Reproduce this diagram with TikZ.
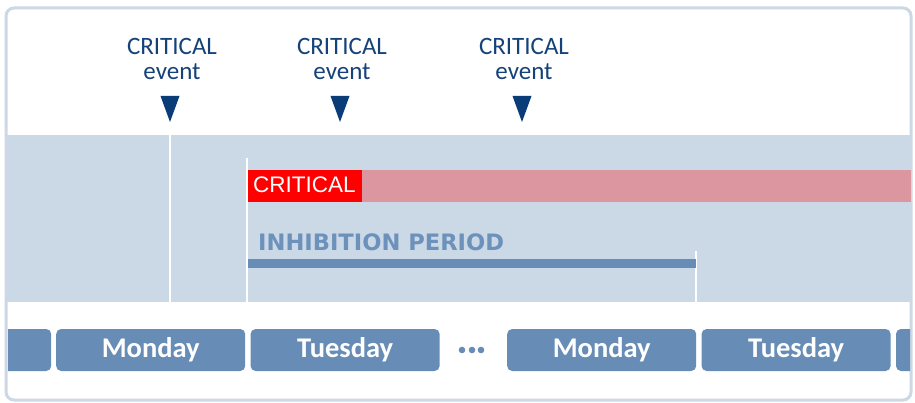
\documentclass[tikz,border=0pt]{standalone}
\usepackage{fontspec}
\usepackage{xcolor}
\usetikzlibrary{positioning}

\newfontfamily\evfont{Carlito}
\newfontfamily\dayfont{Carlito}[BoldFont={Carlito Bold}]
\newfontfamily\crfont{Liberation Sans}
\newfontfamily\inhfont{DejaVu Sans Bold}

\definecolor{frameC}{RGB}{204,216,228}
\definecolor{bandC}{RGB}{203,216,229}
\definecolor{evC}{RGB}{22,66,122}
\definecolor{markC}{RGB}{10,61,120}
\definecolor{dayC}{RGB}{103,141,182}
\definecolor{inhC}{RGB}{108,145,187}
\definecolor{pinkC}{RGB}{219,150,160}
\definecolor{redC}{RGB}{255,0,0}

\begin{document}
\begin{tikzpicture}[
    x=1pt, y=-1pt,
    evlabel/.style={anchor=north, inner sep=0pt, align=center, text=evC, font=\evfont\fontsize{25}{26}\selectfont},
    day/.style={draw=none, fill=dayC, rounded corners=5pt, minimum height=42pt, inner sep=0pt, text=white, font=\dayfont\bfseries\fontsize{28.5}{30}\selectfont},
    tick/.style={white, line width=2pt},
    bar/.style={draw=none, inner sep=0pt, outer sep=0pt}
]

\useasboundingbox (0,0) rectangle (915,403);

% frame and band
\draw[frameC, line width=3pt, rounded corners=8pt, fill=white] (6,8) rectangle (911,400);
\fill[bandC] (6,135) rectangle (910,302);

% critical events
\foreach \x/\n in {170/e1, 340/e2, 522/e3} {
  \node[evlabel] (\n) at (\x+2,38) {CRITICAL\\[-1pt]event};
  \fill[markC] (\x-9.5,96) -- (\x+9.5,96) -- (\x,122) -- cycle;
}

% white marks on the band
\coordinate (t1) at (170,135);
\coordinate (b1) at (170,302);
\coordinate (t2) at (247,158);
\coordinate (b2) at (247,302);
\coordinate (t3) at (696,251);
\coordinate (b3) at (696,302);
\draw[tick] (t1) -- (b1);
\draw[tick] (t2) -- (b2);
\draw[tick] (t3) -- (b3);

% critical bar
\node[bar, fill=pinkC, anchor=north west, minimum width=663pt, minimum height=32pt] (crit) at (248,170) {};
\node[bar, fill=redC, anchor=north west, minimum width=114pt, minimum height=32pt] (critlab) at (248,170) {};
\node[anchor=base west, inner sep=0pt, text=white, font=\crfont\fontsize{22.5}{24}\selectfont] at (253,193) {CRITICAL};

% inhibition period
\node[anchor=base west, inner sep=0pt, text=inhC, font=\inhfont\fontsize{22.6}{24}\selectfont] (inh) at (258,251) {INHIBITION PERIOD};
\node[bar, fill=dayC, anchor=north west, minimum width=448pt, minimum height=9pt] (inhbar) at (248,259) {};

% days
\begin{scope}
  \clip (8,300) rectangle (910,400);
  \node[day, anchor=west, minimum width=60pt] (d0) at (-9,350) {};
  \node[day, anchor=west, minimum width=189pt] (d1) at (56,350) {Monday};
  \node[day, right=5pt of d1, minimum width=189pt] (d2) {Tuesday};
  \node[day, anchor=west, minimum width=189pt] (d3) at (507,350) {Monday};
  \node[day, right=5pt of d3, minimum width=189pt] (d4) {Tuesday};
  \node[day, right=5pt of d4, minimum width=60pt] (d5) {};
\end{scope}
\foreach \x in {462,472,481}
  \fill[dayC] (\x,350) circle (3.3pt);

\end{tikzpicture}
\end{document}
